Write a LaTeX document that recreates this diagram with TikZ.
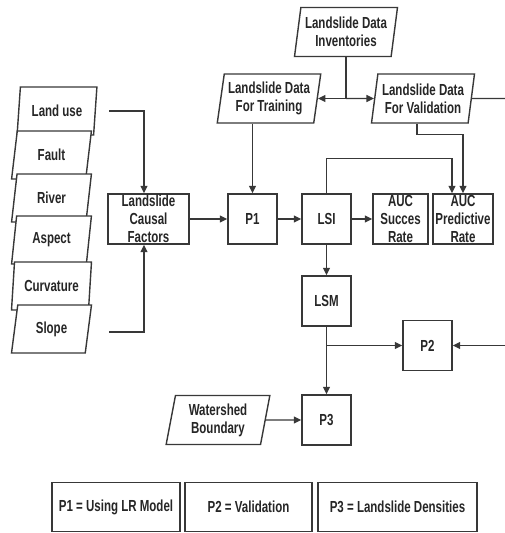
\documentclass[tikz,border=0pt]{standalone}
\usepackage{fontspec}
\setmainfont{Liberation Sans}[FakeStretch=0.72]
\usetikzlibrary{shapes.geometric,arrows.meta}
\begin{document}
\begin{tikzpicture}[x=1pt,y=-1pt,
  every node/.style={font=\fontsize{16}{18}\selectfont\bfseries, text=black!85, align=center},
  ln/.style={draw=black!78, line width=1.4pt},
  arr/.style={ln, -{Triangle[length=7.5pt,width=7pt]}},
  box/.style={rectangle, draw=black!78, line width=1.4pt, fill=white, minimum height=50pt, inner sep=0pt},
  para/.style={trapezium, trapezium left angle=79, trapezium right angle=101, trapezium stretches=true, draw=black!78, line width=1.4pt, fill=white, inner sep=0pt, minimum height=49pt, minimum width=104pt},
  lpara/.style={para, minimum width=80pt, minimum height=48pt}]
\useasboundingbox (0,0) rectangle (505,533);
% data parallelograms
\node[para] (inv) at (346,32) {Landslide Data\\Inventories};
\node[para] (train) at (269,98.5) {Landslide Data\\For Training};
\node[para] (valid) at (423,98.5) {Landslide Data\\For Validation};
% causal factor stack
\node[lpara] (landuse) at (57,111) {Land use};
\node[lpara] (fault) at (51.5,155) {Fault};
\node[lpara] (river) at (51.5,198) {River};
\node[lpara] (aspect) at (51.5,240) {Aspect};
\node[lpara] (curv) at (51.5,286) {Curvature};
\node[lpara] (slope) at (51.5,329) {Slope};
% process boxes
\node[box, minimum width=81pt] (causal) at (148.5,219) {Landslide\\Causal\\Factors};
\node[box, minimum width=49pt] (p1) at (252.5,219) {P1};
\node[box, minimum width=49pt] (lsi) at (326.5,219) {LSI};
\node[box, minimum width=55pt] (aucs) at (400.5,219) {AUC\\Succes\\Rate};
\node[box, minimum width=60pt] (aucp) at (463,219) {AUC\\Predictive\\Rate};
\node[box, minimum width=49pt] (lsm) at (326.5,301) {LSM};
\node[box, minimum width=49pt] (p2) at (427.5,345.5) {P2};
\node[box, minimum width=49pt] (p3) at (326.5,420) {P3};
\node[para] (ws) at (218,420) {Watershed\\Boundary};
% legend
\node[box, minimum width=128pt, minimum height=49pt] (l1) at (116,507) {P1 = Using LR Model};
\node[box, minimum width=127pt, minimum height=49pt] (l2) at (248.5,507) {P2 = Validation};
\node[box, minimum width=159pt, minimum height=49pt] (l3) at (397.5,507) {P3 = Landslide Densities};
% free ends at the right margin
\coordinate (rtop) at (505,98.5);
\coordinate (rbot) at (505,345.5);
% connectors
\draw[arr] ([xshift=13.5pt]landuse.east) -| ([xshift=-4.5pt]causal.north);
\draw[arr] ([xshift=20pt,yshift=-3pt]slope.east) -| ([xshift=-4.5pt]causal.south);
\draw[arr] (causal) -- (p1);
\draw[arr] (p1) -- (lsi);
\draw[arr] (lsi) -- (aucs);
\draw[arr] (lsi) -- (lsm);
\draw[ln] (inv.south) -- (inv.south |- train.east) coordinate (split);
\draw[arr] (split) -- (train.east);
\draw[arr] (split) -- (valid.west);
\draw[ln] (valid.east) -- (rtop);
\draw[arr] (rbot) -- (p2.east);
\draw[arr] (p1.north |- train.south) -- (p1.north);
\draw[arr] ([xshift=-6pt]valid.south) -- ++(0,11) -| (aucp.north);
\draw[arr] (lsi.north) -- ++(0,-35) -| ([xshift=-11pt]aucp.north);
\draw[ln] (lsm.south) -- (lsm.south |- p2.west) coordinate (j);
\draw[arr] (j) -- (p2.west);
\draw[arr] (j) -- (p3.north);
\draw[arr] (ws) -- (p3);
\end{tikzpicture}
\end{document}
